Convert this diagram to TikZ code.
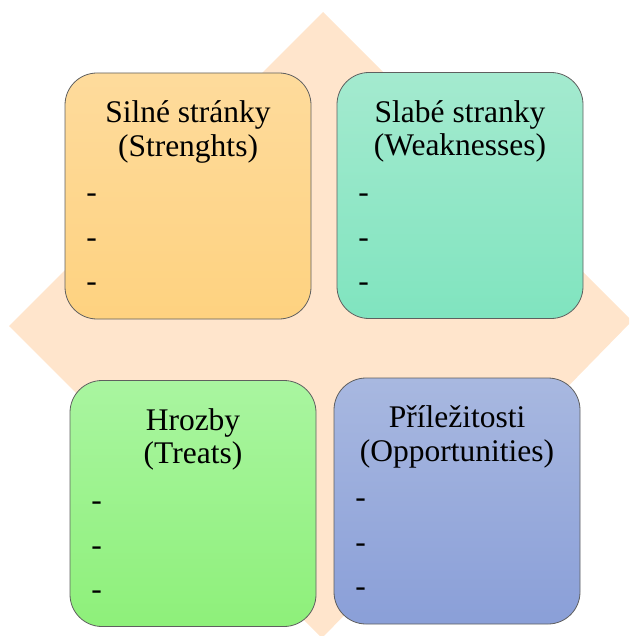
\documentclass[tikz,border=0pt]{standalone}
\usepackage{fontspec}
\setmainfont{Liberation Serif}
\usetikzlibrary{positioning}

\definecolor{peach}{RGB}{255,229,204}
\definecolor{boxline}{RGB}{95,95,95}
\definecolor{strtop}{RGB}{254,219,156}
\definecolor{strbot}{RGB}{254,210,128}
\definecolor{weaktop}{RGB}{164,234,207}
\definecolor{weakbot}{RGB}{128,228,191}
\definecolor{thrtop}{RGB}{169,245,160}
\definecolor{thrbot}{RGB}{142,240,122}
\definecolor{opptop}{RGB}{168,184,224}
\definecolor{oppbot}{RGB}{138,159,216}

\tikzset{
  swotbox/.style={draw=boxline,line width=0.8pt,rounded corners=32pt,
    minimum width=246pt,minimum height=246pt,inner sep=0pt},
  swottitle/.style={align=center,inner sep=0pt,
    font=\fontsize{31.5}{33.5}\selectfont},
  swotdash/.style={inner sep=0pt,font=\fontsize{31.5}{33.5}\selectfont}
}

\begin{document}
\begin{tikzpicture}[x=1pt,y=-1pt]
  \useasboundingbox (0,0) rectangle (629,636);

  % Background diamond
  \begin{scope}
    \clip (0,0) rectangle (629,636);
    \fill[peach] (323,12) -- (632,321) -- (322,638) -- (9,326) -- cycle;
  \end{scope}

  % The four boxes
  \node[swotbox,top color=strtop,bottom color=strbot] (str) at (188,196) {};
  \node[swotbox,top color=weaktop,bottom color=weakbot] (weak) at (460,195.5) {};
  \node[swotbox,top color=thrtop,bottom color=thrbot] (thr) at (193,503.5) {};
  \node[swotbox,top color=opptop,bottom color=oppbot] (opp) at (457,501) {};

  % Titles
  \node[swottitle,below=28pt of str.north] (str-title) {Silné stránky\\(Strenghts)};
  \node[swottitle,below=28pt of weak.north] (weak-title) {Slabé stranky\\(Weaknesses)};
  \node[swottitle,below=28pt of thr.north] (thr-title) {Hrozby\\(Treats)};
  \node[swottitle,below=28pt of opp.north] (opp-title) {Příležitosti\\(Opportunities)};

  % Empty bullet lines
  \foreach \sw in {str,weak,thr,opp} {
    \foreach \y [count=\i] in {126,171,215} {
      \node[swotdash] (\sw-dash\i) at ([shift={(27,\y)}]\sw.north west) {-};
    }
  }
\end{tikzpicture}
\end{document}
